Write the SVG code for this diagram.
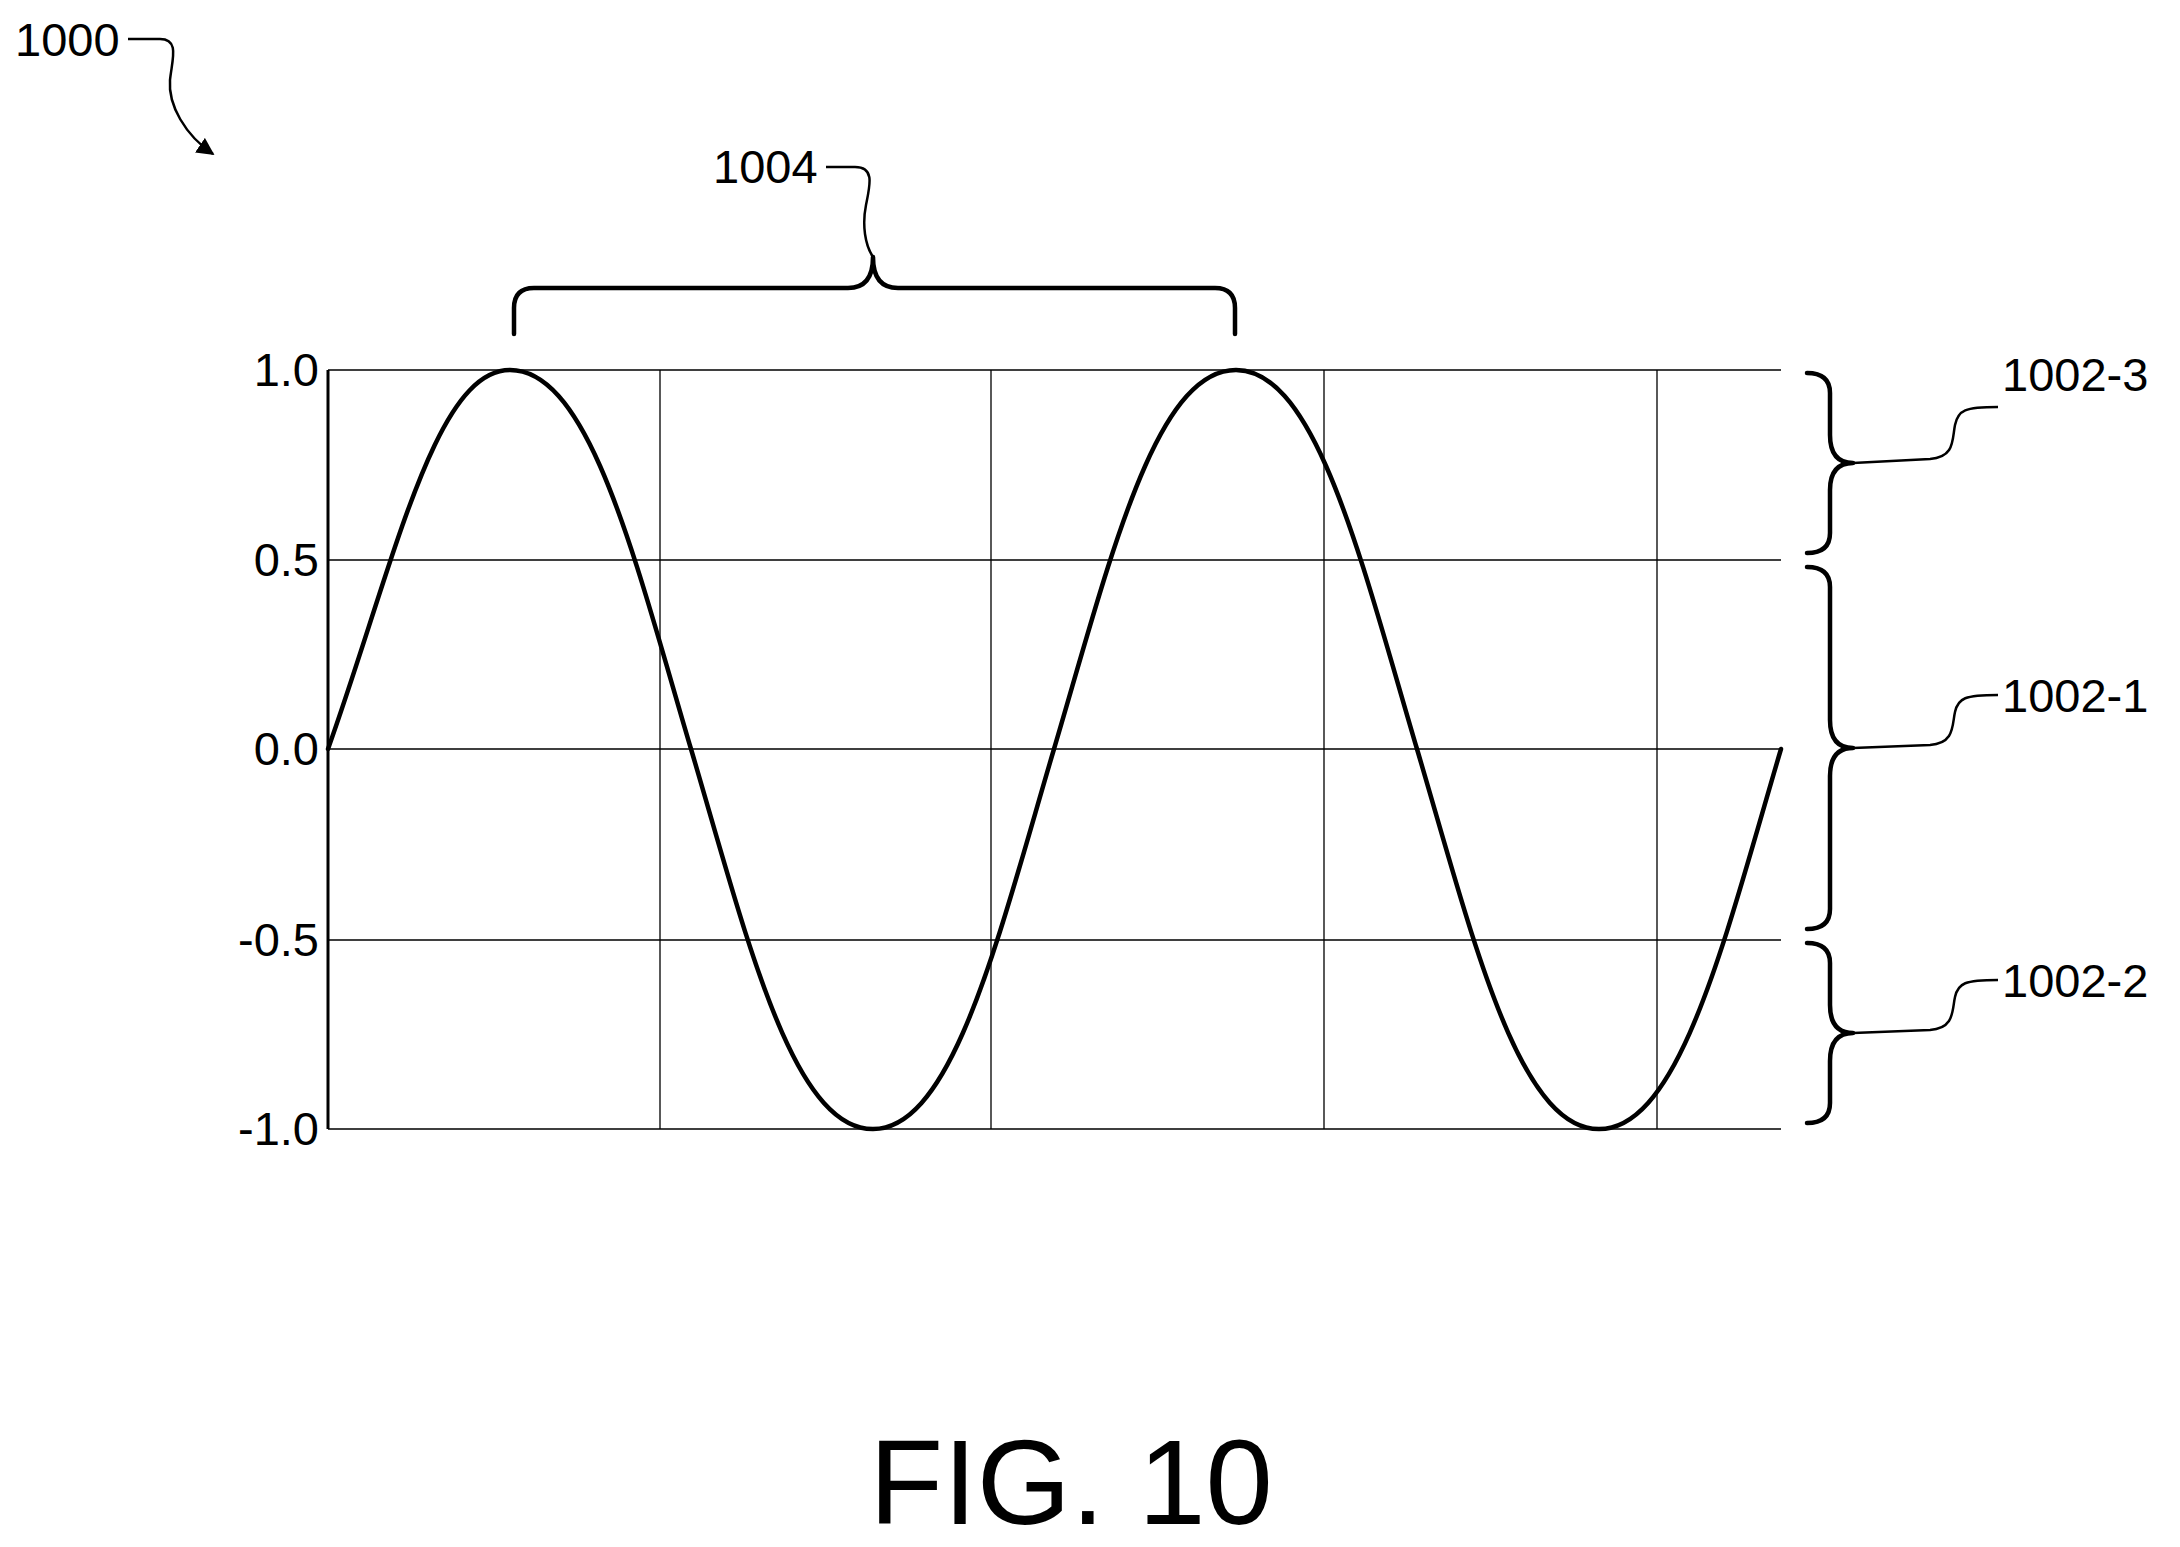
<svg xmlns="http://www.w3.org/2000/svg" width="2180" height="1547" viewBox="0 0 2180 1547">
<style>
.t{font-family:"Liberation Sans",Arial,sans-serif;font-size:47px;fill:#000}
.g{stroke:#000;stroke-width:1.3;fill:none}
.b{stroke:#000;stroke-width:4.5;fill:none;stroke-linecap:round;stroke-linejoin:round}
.l{stroke:#000;stroke-width:2.5;fill:none}
</style>
<defs><marker id="a" viewBox="0 0 10 10" refX="9" refY="5" markerWidth="7" markerHeight="7" orient="auto"><path d="M0,0 L10,5 L0,10 z" fill="#000"/></marker></defs>
<g id="grid">
<path class="g" d="M328,370H1781M328,560H1781M328,749H1781M328,940H1781M328,1129H1781M660,370V1129M991,370V1129M1324,370V1129M1657,370V1129"/>
<path d="M328,370V1129" stroke="#000" stroke-width="3"/>
</g>
<g id="labels">
<text class="t" x="319" y="386" text-anchor="end">1.0</text>
<text class="t" x="319" y="576" text-anchor="end">0.5</text>
<text class="t" x="319" y="765" text-anchor="end">0.0</text>
<text class="t" x="319" y="956" text-anchor="end">-0.5</text>
<text class="t" x="319" y="1145" text-anchor="end">-1.0</text>
</g>
<g id="wave">
<path class="b" d="M328,749 C395,560 435,370 510,370 C590,370 635,560 691,749 C747,938 792,1129 873,1129 C953,1129 998,938 1054,749 C1110,560 1155,370 1236,370 C1316,370 1361,560 1417,749 C1473,938 1518,1129 1599,1129 C1680,1129 1725,938 1781,749"/>
</g>
<g id="n1004">
<path class="b" d="M514,334 V308 Q514,288 534,288 H848 Q873,288 873,257 Q873,288 898,288 H1215 Q1235,288 1235,308 V334"/>
<text class="t" x="713" y="183">1004</text>
</g>
<g id="n1002-3">
<path class="b" d="M1807,373 Q1830,373 1830,393 V435 Q1830,463 1853,463 Q1830,463 1830,490 V533 Q1830,553 1807,553"/>
<text class="t" x="2002" y="391">1002-3</text>
</g>
<g id="n1002-1">
<path class="b" d="M1807,567 Q1830,567 1830,587 V720 Q1830,748 1853,748 Q1830,748 1830,776 V909 Q1830,929 1807,929"/>
<text class="t" x="2002" y="712">1002-1</text>
</g>
<g id="n1002-2">
<path class="b" d="M1807,943 Q1830,943 1830,963 V1005 Q1830,1033 1853,1033 Q1830,1033 1830,1061 V1103 Q1830,1123 1807,1123"/>
<text class="t" x="2002" y="997">1002-2</text>
</g>
<g id="n1000">
<text class="t" x="15" y="56">1000</text>
</g>
<g id="connectors">
<path class="l" d="M826,167 H855 C875,167 870,185 866,205 C862,225 865,245 873,257"/>
<path class="l" d="M1853,463 L1930,459 C1955,457 1952,440 1955,425 C1958,410 1965,407 1998,407"/>
<path class="l" d="M1853,748 L1930,745 C1955,743 1952,725 1955,712 C1958,698 1965,695 1998,695"/>
<path class="l" d="M1853,1033 L1930,1030 C1955,1028 1952,1010 1955,997 C1958,983 1965,980 1998,980"/>
<path class="l" marker-end="url(#a)" d="M128,39 H160 C180,39 172,60 170,80 C168,105 185,135 213,154"/>
</g>
<text x="1071" y="1524" text-anchor="middle" style="font-family:'Liberation Sans',Arial,sans-serif;font-size:121px">FIG. 10</text>
</svg>
